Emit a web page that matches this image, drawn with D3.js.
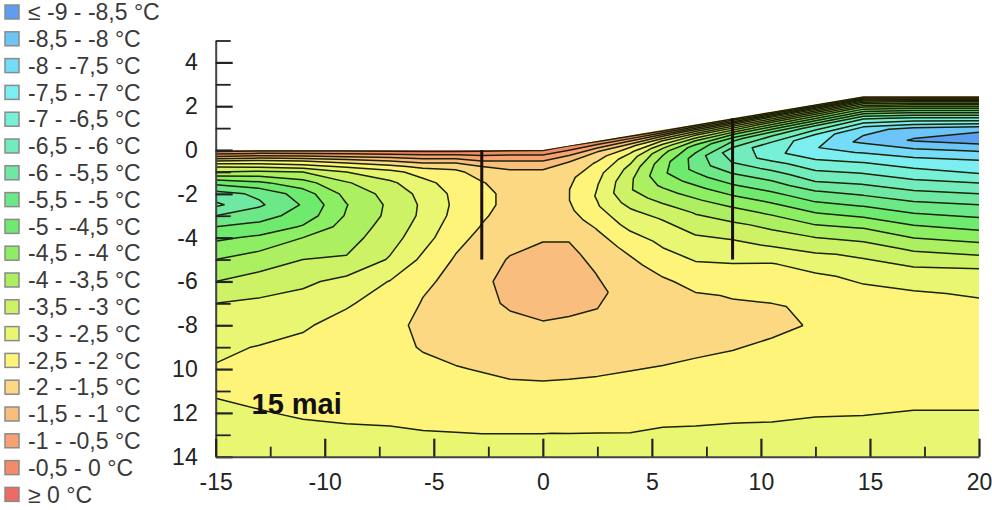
<!DOCTYPE html>
<html>
<head>
<meta charset="utf-8">
<script src="https://cdn.jsdelivr.net/npm/d3@7"></script>
<style>
  body { margin: 0; background: #fff; }
  svg { display: block; font-family: "Liberation Sans", Arial, sans-serif; }
</style>
</head>
<body>
<svg id="chart" width="992" height="510"></svg>
<script>
// Grid columns: distance along the section (m)
const columnX = [-15, -13, -11, -9, -7, -5.5, -4, -2.8, -1.5, 0, 1.2, 2.5, 4, 5.5, 7, 8.7, 10.5, 12.5, 14.7, 17, 20];
// Grid rows: depth below the ground surface (m)
const depthRows = [0, 0.25, 0.5, 0.75, 1, 1.5, 2, 2.5, 3, 3.5, 4, 5, 6, 7, 8, 9, 10, 11, 12, 13, 14, 15, 16.5];
// Ground surface profile
const surfaceX = [-15, 0, 14.7, 20];
const surfaceY = [0, 0, 2.45, 2.45];

// Ground temperature (°C), one profile per column, from the surface downwards
const tempProfiles = [
  [0.3, -0.8, -2.0, -2.95, -3.5, -4.85, -5.7, -6.1, -5.5, -5.0, -4.6, -4.0, -3.5, -3.0, -2.75, -2.58, -2.47, -2.44, -2.62, -2.67, -2.75, -2.8, -2.88],
  [0.2, -0.95, -2.1, -2.9, -3.6, -4.6, -5.4, -5.58, -5.2, -4.85, -4.4, -3.75, -3.3, -2.9, -2.7, -2.48, -2.37, -2.4, -2.52, -2.65, -2.74, -2.8, -2.88],
  [0.2, -0.9, -2.0, -2.75, -3.5, -4.2, -4.75, -4.95, -4.8, -4.45, -4.0, -3.5, -3.1, -2.8, -2.55, -2.4, -2.3, -2.33, -2.46, -2.6, -2.72, -2.78, -2.87],
  [0.2, -0.8, -1.75, -2.4, -3.0, -3.55, -3.85, -4.02, -3.95, -3.8, -3.7, -3.45, -2.85, -2.55, -2.35, -2.27, -2.25, -2.3, -2.42, -2.58, -2.7, -2.77, -2.86],
  [0.2, -0.7, -1.5, -2.15, -2.65, -3.1, -3.32, -3.4, -3.38, -3.3, -3.2, -2.95, -2.48, -2.3, -2.1, -2.12, -2.2, -2.3, -2.44, -2.54, -2.67, -2.75, -2.85],
  [0.2, -0.6, -1.3, -1.85, -2.3, -2.65, -2.85, -2.92, -2.9, -2.8, -2.7, -2.4, -2.08, -1.97, -1.92, -1.97, -2.1, -2.22, -2.38, -2.53, -2.65, -2.74, -2.84],
  [0.2, -0.6, -1.3, -1.85, -2.1, -2.28, -2.38, -2.4, -2.35, -2.25, -2.15, -1.95, -1.88, -1.85, -1.85, -1.9, -2.02, -2.18, -2.35, -2.52, -2.62, -2.72, -2.82],
  [0.15, -0.5, -1.0, -1.5, -1.8, -2.03, -2.1, -2.1, -2.05, -1.98, -1.88, -1.72, -1.6, -1.65, -1.75, -1.85, -1.98, -2.12, -2.3, -2.51, -2.62, -2.72, -2.82],
  [0.1, -0.55, -1.0, -1.35, -1.6, -1.8, -1.9, -1.9, -1.85, -1.78, -1.68, -1.46, -1.35, -1.42, -1.65, -1.8, -1.93, -2.08, -2.3, -2.51, -2.62, -2.72, -2.82],
  [0.05, -0.55, -1.0, -1.35, -1.6, -1.78, -1.85, -1.85, -1.8, -1.7, -1.55, -1.3, -1.2, -1.3, -1.55, -1.72, -1.88, -2.1, -2.3, -2.51, -2.62, -2.72, -2.82],
  [0.02, -0.6, -1.1, -1.5, -1.7, -1.9, -1.99, -1.99, -1.9, -1.75, -1.6, -1.35, -1.25, -1.3, -1.55, -1.75, -1.9, -2.05, -2.3, -2.48, -2.62, -2.72, -2.82],
  [0.1, -0.8, -1.5, -1.85, -2.05, -2.35, -2.48, -2.55, -2.45, -2.25, -2.02, -1.75, -1.52, -1.4, -1.55, -1.7, -1.85, -2.05, -2.28, -2.45, -2.6, -2.7, -2.82],
  [0.2, -1.0, -1.9, -2.4, -2.75, -3.15, -3.4, -3.45, -3.2, -2.9, -2.7, -2.15, -1.85, -1.7, -1.65, -1.7, -1.85, -2.05, -2.28, -2.42, -2.56, -2.7, -2.82],
  [0.3, -1.3, -2.52, -3.3, -3.85, -4.3, -4.4, -4.1, -3.75, -3.4, -3.05, -2.65, -2.25, -1.9, -1.75, -1.75, -1.85, -2.05, -2.3, -2.42, -2.56, -2.7, -2.8],
  [0.3, -1.6, -3.02, -4.02, -4.7, -5.2, -5.15, -4.75, -4.3, -3.9, -3.55, -3.02, -2.6, -2.2, -1.9, -1.75, -1.8, -2.1, -2.28, -2.4, -2.53, -2.66, -2.8],
  [0.3, -1.8, -3.3, -4.52, -5.4, -6.3, -6.02, -5.52, -5.02, -4.52, -4.05, -3.3, -2.75, -2.35, -2.05, -1.85, -1.85, -2.1, -2.25, -2.38, -2.51, -2.64, -2.8],
  [0.3, -2.02, -3.6, -4.8, -5.8, -6.7, -6.8, -6.2, -5.65, -5.15, -4.65, -3.75, -3.1, -2.45, -2.15, -1.95, -1.95, -2.1, -2.2, -2.35, -2.48, -2.6, -2.8],
  [0.3, -2.2, -3.8, -5.02, -6.1, -7.3, -7.45, -7.02, -6.52, -6.02, -5.45, -4.45, -3.55, -2.85, -2.35, -2.1, -2.02, -2.05, -2.15, -2.25, -2.47, -2.58, -2.75],
  [0.3, -2.4, -4.1, -5.3, -6.4, -7.8, -8.15, -7.6, -7.02, -6.52, -6.02, -5.02, -4.02, -3.2, -2.7, -2.35, -2.15, -2.1, -2.15, -2.25, -2.42, -2.56, -2.75],
  [0.3, -2.52, -4.3, -5.52, -6.6, -8.2, -8.55, -7.85, -7.25, -6.8, -6.3, -5.3, -4.4, -3.55, -2.85, -2.45, -2.25, -2.15, -2.15, -2.25, -2.46, -2.58, -2.75],
  [0.3, -2.52, -4.3, -5.52, -6.6, -8.4, -8.75, -8.02, -7.4, -7.02, -6.45, -5.45, -4.6, -3.7, -2.9, -2.55, -2.3, -2.2, -2.2, -2.3, -2.45, -2.6, -2.75]
];

// Isotherm levels (°C) and the colour of each class, coldest first
const levels = [-8.5, -8, -7.5, -7, -6.5, -6, -5.5, -5, -4.5, -4, -3.5, -3, -2.5, -2, -1.5, -1, -0.5, 0];
const classColors = ["#5c9ff0", "#6cc4f8", "#74dcf8", "#7aeef0", "#76f0d6", "#72ecbc", "#6ee8a2", "#6ce888",
                     "#6eea6e", "#8cee62", "#acf062", "#cef266", "#e9f672", "#fff47a", "#fcd882", "#f9bd7e",
                     "#f8a274", "#f58a68", "#ef6a62"];
const legendLabels = ["≤ -9 - -8,5 °C", "-8,5 - -8 °C", "-8 - -7,5 °C", "-7,5 - -7 °C", "-7 - -6,5 °C",
                      "-6,5 - -6 °C", "-6 - -5,5 °C", "-5,5 - -5 °C", "-5 - -4,5 °C", "-4,5 - -4 °C",
                      "-4 - -3,5 °C", "-3,5 - -3 °C", "-3 - -2,5 °C", "-2,5 - -2 °C", "-2 - -1,5 °C",
                      "-1,5 - -1 °C", "-1 - -0,5 °C", "-0,5 - 0 °C", "≥ 0 °C"];

// Boreholes (x, top, bottom)
const boreholeX = [-2.8, 8.7];
const boreholeTop = [0, 1.45];
const boreholeBottom = [-5, -5];

// Axis ticks
const xMajorTicks = [-15, -10, -5, 0, 5, 10, 15, 20];
const xMajorLabels = ["-15", "-10", "-5", "0", "5", "10", "15", "20"];
const xMinorTicks = [-12.5, -7.5, -2.5, 2.5, 7.5, 12.5, 17.5];
const yMajorTicks = [4, 2, 0, -2, -4, -6, -8, -10, -12, -14];
const yMajorLabels = ["4", "2", "0", "-2", "-4", "-6", "-8", "10", "12", "14"];
const yMinorTicks = [5, 3, 1, -1, -3, -5, -7, -9, -11, -13];
const dateLabel = "15 mai";

const svg = d3.select("#chart");
const x = d3.scaleLinear().domain([-15, 20]).range([215.7, 979]);
const y = d3.scaleLinear().domain([5, -14]).range([40.5, 456.7]);

// ---- temperature field ----
const n = columnX.length, m = depthRows.length;
const values = new Array(n * m);
for (let j = 0; j < m; j++) for (let i = 0; i < n; i++) values[j * n + i] = tempProfiles[i][j];

const colToX = d3.scaleLinear().domain(d3.range(n)).range(columnX);
const rowToDepth = d3.scaleLinear().domain(d3.range(m)).range(depthRows);
const surface = d3.scaleLinear().domain(surfaceX).range(surfaceY).clamp(true);

// grid coordinates (sample i sits at i + 0.5) -> pixel position in the section
function toPixel(cx, cy) {
  const ix = Math.max(0, Math.min(n - 1, cx - 0.5));
  const iy = Math.max(0, Math.min(m - 1, cy - 0.5));
  const xv = colToX(ix);
  const yv = surface(xv) - rowToDepth(iy);
  return [x(xv), y(yv)];
}
const gridProjection = d3.geoTransform({
  point(cx, cy) { const p = toPixel(cx, cy); this.stream.point(p[0], p[1]); }
});
const bandPath = d3.geoPath(gridProjection);

const contours = d3.contours().size([n, m]).thresholds(levels)(values);

const outline = surfaceX.map((sx, k) => [sx, surfaceY[k]]).concat([[20, -14], [-15, -14]]);
const outlinePath = d3.line().x(d => x(d[0])).y(d => y(d[1]))(outline) + "Z";

svg.append("defs").append("clipPath").attr("id", "section")
  .append("path").attr("d", outlinePath);

const field = svg.append("g").attr("clip-path", "url(#section)");
field.append("path").attr("d", outlinePath).attr("fill", classColors[0]);
field.selectAll("path.band").data(contours).join("path")
  .attr("class", "band")
  .attr("d", bandPath)
  .attr("fill", (d, k) => classColors[k + 1]);

// isotherm lines: contour rings without the pieces that run along the grid border
function isolines(geom) {
  const out = [];
  for (const poly of geom.coordinates) for (const ring of poly) {
    let cur = [];
    for (const p of ring) {
      const onEdge = p[0] <= 0 || p[0] >= n || p[1] <= 0 || p[1] >= m;
      if (onEdge) { if (cur.length > 1) out.push(cur); cur = []; }
      else cur.push(toPixel(p[0], p[1]));
    }
    if (cur.length > 1) out.push(cur);
  }
  return out;
}
const isoLine = d3.line();
const lineData = contours.flatMap(c => isolines(c));
field.selectAll("path.iso").data(lineData).join("path")
  .attr("class", "iso")
  .attr("d", isoLine)
  .attr("fill", "none")
  .attr("stroke", "#1a2306")
  .attr("stroke-width", 1.5)
  .attr("stroke-linejoin", "round");

// boreholes
svg.append("g").selectAll("line").data(boreholeX).join("line")
  .attr("x1", d => x(d)).attr("x2", d => x(d))
  .attr("y1", (d, i) => y(boreholeTop[i])).attr("y2", (d, i) => y(boreholeBottom[i]))
  .attr("stroke", "#1b0f05").attr("stroke-width", 3);

// ---- axes ----
function styleAxis(g, width) {
  g.select(".domain").attr("stroke", "#444").attr("stroke-width", 2);
  g.selectAll(".tick line").attr("stroke", "#222").attr("stroke-width", width);
  g.selectAll(".tick text").attr("fill", "#222").attr("font-size", 23)
    .attr("font-family", "'Liberation Sans', Arial, sans-serif");
}
svg.append("g").attr("transform", `translate(${x(-15)},0)`)
  .call(d3.axisLeft(y).tickValues(yMajorTicks)
    .tickFormat(d => yMajorLabels[yMajorTicks.indexOf(d)])
    .tickSizeInner(-17).tickSizeOuter(0).tickPadding(18))
  .call(g => styleAxis(g, 2.2));
svg.append("g").attr("transform", `translate(${x(-15)},0)`)
  .call(d3.axisLeft(y).tickValues(yMinorTicks).tickFormat("").tickSizeInner(-15).tickSizeOuter(0))
  .call(g => { g.select(".domain").remove(); styleAxis(g, 1.8); });

svg.append("g").attr("transform", `translate(0,${y(-14)})`)
  .call(d3.axisBottom(x).tickValues(xMajorTicks)
    .tickFormat(d => xMajorLabels[xMajorTicks.indexOf(d)])
    .tickSizeInner(-18).tickSizeOuter(0).tickPadding(17))
  .call(g => styleAxis(g, 2.2));
svg.append("g").attr("transform", `translate(0,${y(-14)})`)
  .call(d3.axisBottom(x).tickValues(xMinorTicks).tickFormat("").tickSizeInner(-10).tickSizeOuter(0))
  .call(g => { g.select(".domain").remove(); styleAxis(g, 1.8); });

// date label
svg.append("text").attr("x", 251.5).attr("y", 414)
  .attr("font-size", 29).attr("font-weight", "bold").attr("fill", "#111")
  .text(dateLabel);

// ---- legend ----
const legend = svg.append("g").selectAll("g").data(legendLabels).join("g")
  .attr("transform", (d, i) => `translate(0,${12 + i * 26.8})`);
legend.append("rect").attr("x", 5).attr("y", -7).attr("width", 14).attr("height", 14)
  .attr("fill", (d, i) => classColors[i]).attr("stroke", "#8a8a8a").attr("stroke-width", 1.5);
legend.append("text").attr("x", 28).attr("dy", "0.36em")
  .attr("font-size", 23).attr("fill", "#3a3a3a").text(d => d);
</script>
</body>
</html>
